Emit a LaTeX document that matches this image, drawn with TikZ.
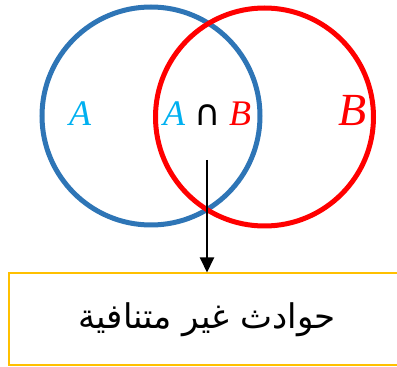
\documentclass[tikz,border=0pt]{standalone}
\usepackage{fontspec}
\setmainfont{Liberation Serif}
\newfontfamily\arabicfont[Script=Arabic]{DejaVu Sans}
\newfontfamily\symbolfont{DejaVu Sans}
\TeXXeTstate=1
\usetikzlibrary{arrows.meta}
\definecolor{setblue}{HTML}{2E75B6}
\definecolor{setred}{HTML}{FF0000}
\definecolor{lettercyan}{HTML}{00B0F0}
\definecolor{boxgold}{HTML}{FFC000}
\tikzset{
  setcircle/.style={line width=5pt},
  letter/.style={inner sep=0pt, anchor=base, font=\fontsize{36}{36}\selectfont\itshape},
  infobox/.style={draw=boxgold, line width=2pt, minimum width=396pt, minimum height=91.5pt, inner sep=0pt},
  pointer/.style={line width=2pt, -{Triangle[length=15pt,width=14pt]}}
}
\begin{document}
\begin{tikzpicture}[x=1pt,y=1pt]
\useasboundingbox (0,0) rectangle (397,367);
\draw[setcircle, setblue] (151,251) circle (109);
\draw[setcircle, setred] (264.5,250) circle (109);
\node[letter, text=lettercyan] (a1) at (80,241) {A};
\node[letter, text=lettercyan] (a2) at (174,241) {A};
\node[inner sep=0pt, anchor=base] (cap) at (208,241) {\fontsize{36}{36}\selectfont\symbolfont ∩};
\node[letter, text=setred] (b1) at (240,241) {B};
\node[letter, text=setred, font=\fontsize{46}{46}\selectfont\itshape] (b2) at (353,241) {B};
\coordinate (start) at (207,207);
\node[infobox] (box) at (207,47.75) {\fontsize{34}{38}\selectfont\arabicfont\beginR حوادث غير متنافية\endR};
\draw[pointer] (start) -- (box.north);
\end{tikzpicture}
\end{document}
